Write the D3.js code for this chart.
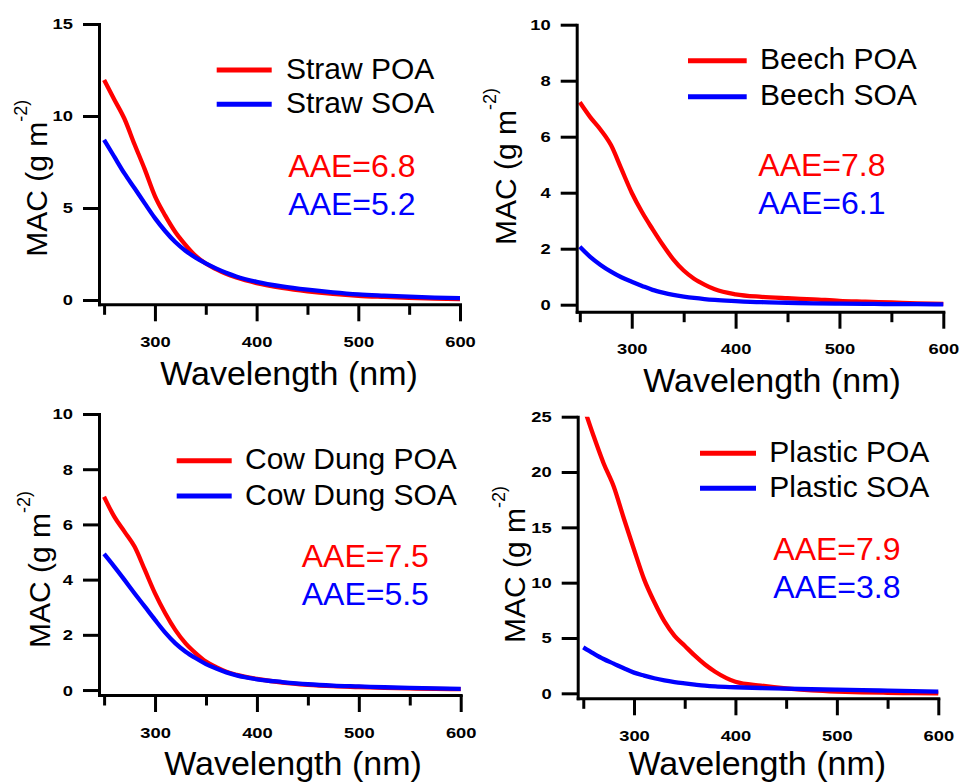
<!DOCTYPE html>
<html>
<head>
<meta charset="utf-8">
<script src="https://cdn.jsdelivr.net/npm/d3@7"></script>
<style>
  html, body { margin: 0; padding: 0; background: #fff; }
  svg { display: block; font-family: "Liberation Sans", Arial, sans-serif; }
</style>
</head>
<body>
<svg id="chart" width="960" height="782"></svg>
<script>
// Wavelength grid (nm) shared by every spectrum
const wavelengths = [250, 260, 270, 280, 290, 300, 310, 320, 330, 340, 350, 360, 370, 380, 400, 425, 450, 475, 500, 525, 550, 575, 600];

// Mass absorption cross-section, MAC (m2 g-1), per source
const strawPOA   = [11.96, 10.9, 9.85, 8.45, 7.1, 5.65, 4.6, 3.7, 3.0, 2.4, 1.98, 1.68, 1.42, 1.22, 0.92, 0.66, 0.47, 0.33, 0.23, 0.17, 0.12, 0.08, 0.05];
const strawSOA   = [8.7, 7.79, 6.88, 6.07, 5.25, 4.45, 3.75, 3.15, 2.68, 2.3, 1.99, 1.72, 1.48, 1.28, 0.99, 0.74, 0.56, 0.42, 0.31, 0.24, 0.18, 0.13, 0.1];
const beechPOA   = [7.23, 6.7, 6.25, 5.7, 4.85, 4.0, 3.3, 2.7, 2.13, 1.62, 1.22, 0.93, 0.72, 0.55, 0.37, 0.28, 0.23, 0.19, 0.14, 0.11, 0.08, 0.05, 0.03];
const beechSOA   = [2.07, 1.71, 1.42, 1.18, 0.98, 0.82, 0.67, 0.53, 0.43, 0.35, 0.29, 0.24, 0.2, 0.17, 0.13, 0.09, 0.07, 0.05, 0.04, 0.03, 0.02, 0.02, 0.01];
const cowDungPOA = [7.0, 6.28, 5.74, 5.19, 4.35, 3.5, 2.78, 2.17, 1.69, 1.33, 1.03, 0.83, 0.66, 0.55, 0.4, 0.27, 0.19, 0.14, 0.11, 0.08, 0.06, 0.04, 0.03];
const cowDungSOA = [4.93, 4.47, 3.99, 3.5, 3.02, 2.54, 2.08, 1.69, 1.39, 1.15, 0.94, 0.78, 0.64, 0.53, 0.39, 0.29, 0.21, 0.16, 0.13, 0.1, 0.08, 0.06, 0.04];
const plasticPOA = [26.0, 23.3, 20.8, 18.7, 15.8, 13.0, 10.3, 8.25, 6.5, 5.2, 4.3, 3.4, 2.6, 1.95, 1.05, 0.7, 0.44, 0.27, 0.16, 0.09, 0.05, 0.02, 0.0];
const plasticSOA = [4.16, 3.61, 3.1, 2.68, 2.26, 1.87, 1.6, 1.36, 1.17, 1.02, 0.9, 0.79, 0.69, 0.62, 0.55, 0.48, 0.42, 0.37, 0.33, 0.28, 0.24, 0.2, 0.16];

// Absorption Ångström exponents
const sources   = ["Straw", "Beech", "Cow Dung", "Plastic"];
const aaePOA    = ["6.8", "7.8", "7.5", "7.9"];
const aaeSOA    = ["5.2", "6.1", "5.5", "3.8"];

// Axis ticks
const xTicks       = [250, 300, 350, 400, 450, 500, 550, 600];
const xTickLabels  = [300, 400, 500, 600];
const yTicksStraw   = [0, 5, 10, 15];
const yTicksBeech   = [0, 2, 4, 6, 8, 10];
const yTicksCowDung = [0, 2, 4, 6, 8, 10];
const yTicksPlastic = [0, 5, 10, 15, 20, 25];

const poaSeries = [strawPOA, beechPOA, cowDungPOA, plasticPOA];
const soaSeries = [strawSOA, beechSOA, cowDungSOA, plasticSOA];
const yTickSets = [yTicksStraw, yTicksBeech, yTicksCowDung, yTicksPlastic];

// Panel geometry (screen layout)
const layout = [
  { xr: [99, 460],    x0: 245,   yr: [304.3, 24],  y0: -0.234, leg: [216.7, 271.7, 70, 104.3], legTx: 286,   aae: [288.3, 176.7, 215],   xt: [289, 385],   yt: [47, 256.7] },
  { xr: [576.7, 943.3], x0: 247, yr: [311.7, 24.7], y0: -0.25, leg: [688, 746.7, 60.7, 96.7],  legTx: 760,   aae: [758.3, 176, 214.3],   xt: [772, 392],   yt: [515.7, 245] },
  { xr: [99, 460.7],  x0: 245,   yr: [695, 414],   y0: -0.18,  leg: [176.7, 231.7, 460.7, 496], legTx: 245,   aae: [301.7, 566.7, 605],   xt: [293, 775],   yt: [50, 648] },
  { xr: [577.7, 938.3], x0: 244.5, yr: [698.3, 416.7], y0: -0.45, leg: [700, 756, 453.3, 488.3], legTx: 769.3, aae: [773.3, 560, 598.3], xt: [757.3, 775], yt: [525, 643] }
];

const RED = "#ff0000", BLUE = "#0000ff";
const svg = d3.select("#chart");
svg.append("rect").attr("width", 960).attr("height", 782).attr("fill", "#fff");

sources.forEach((name, i) => {
  const L = layout[i];
  const yTicks = yTickSets[i];
  const yMax = d3.max(yTicks);
  const x = d3.scaleLinear().domain([L.x0, 600]).range(L.xr);
  const y = d3.scaleLinear().domain([L.y0, yMax]).range(L.yr);
  const g = svg.append("g");

  // plot clip
  const clipId = "clip" + i;
  g.append("clipPath").attr("id", clipId).append("rect")
    .attr("x", L.xr[0]).attr("y", y(yMax))
    .attr("width", L.xr[1] - L.xr[0] + 4).attr("height", L.yr[0] - y(yMax));

  // spectra
  const line = d3.line().x(d => x(d[0])).y(d => y(d[1])).curve(d3.curveMonotoneX);
  const curves = g.append("g").attr("clip-path", `url(#${clipId})`);
  [[poaSeries[i], RED], [soaSeries[i], BLUE]].forEach(([vals, col]) => {
    curves.append("path")
      .datum(wavelengths.map((w, k) => [w, vals[k]]))
      .attr("d", line)
      .attr("fill", "none").attr("stroke", col)
      .attr("stroke-width", 4.3).attr("stroke-linejoin", "round");
  });

  // x axis
  const xAxis = g.append("g")
    .attr("transform", `translate(0,${L.yr[0]})`)
    .call(d3.axisBottom(x).tickValues(xTicks).tickSize(17).tickSizeOuter(0)
      .tickFormat(d => xTickLabels.includes(d) ? String(d) : ""));
  xAxis.selectAll(".tick line")
    .attr("y2", d => xTickLabels.includes(d) ? 17 : 10.5);
  xAxis.selectAll(".tick text")
    .attr("y", 42.5).attr("dy", 0);

  // y axis
  const yAxis = g.append("g")
    .attr("transform", `translate(${L.xr[0]},0)`)
    .call(d3.axisLeft(y).tickValues(yTicks).tickSize(16).tickPadding(10).tickSizeOuter(0));

  [xAxis, yAxis].forEach(ax => {
    ax.attr("font-family", null).attr("font-size", null);
    ax.select(".domain").attr("stroke", "#000").attr("stroke-width", 3).attr("stroke-linecap", "square");
    ax.selectAll(".tick line").attr("stroke", "#000").attr("stroke-width", 3);
    ax.selectAll(".tick text")
      .attr("fill", "#000")
      .style("font-family", "'Liberation Sans', Arial, sans-serif")
      .style("font-size", "15.5px").style("font-weight", "bold")
      .attr("textLength", d => String(d).length * 10.2)
      .attr("lengthAdjust", "spacingAndGlyphs");
  });
  xAxis.selectAll(".tick text").filter(d => !xTickLabels.includes(d)).remove();

  // axis titles
  g.append("text")
    .attr("x", L.xt[0]).attr("y", L.xt[1])
    .attr("text-anchor", "middle").attr("font-size", 34).attr("fill", "#000")
    .text("Wavelength (nm)");

  const yt = g.append("text")
    .attr("transform", `translate(${L.yt[0]},${L.yt[1]}) rotate(-90)`)
    .attr("font-size", 30).attr("fill", "#000")
    .text("MAC (g m");
  yt.append("tspan").attr("font-size", 18).attr("dy", -20).text("-2)");

  // legend
  const legendItems = [[name + " POA", RED, L.leg[2]], [name + " SOA", BLUE, L.leg[3]]];
  legendItems.forEach(([label, col, ly]) => {
    g.append("line")
      .attr("x1", L.leg[0]).attr("x2", L.leg[1]).attr("y1", ly).attr("y2", ly)
      .attr("stroke", col).attr("stroke-width", 5);
    g.append("text")
      .attr("x", L.legTx).attr("y", ly + 8.5)
      .attr("font-size", 30).attr("fill", "#000")
      .text(label);
  });

  // AAE annotations
  g.append("text").attr("x", L.aae[0]).attr("y", L.aae[1])
    .attr("font-size", 32).attr("fill", RED).text("AAE=" + aaePOA[i]);
  g.append("text").attr("x", L.aae[0]).attr("y", L.aae[2])
    .attr("font-size", 32).attr("fill", BLUE).text("AAE=" + aaeSOA[i]);
});
</script>
</body>
</html>
